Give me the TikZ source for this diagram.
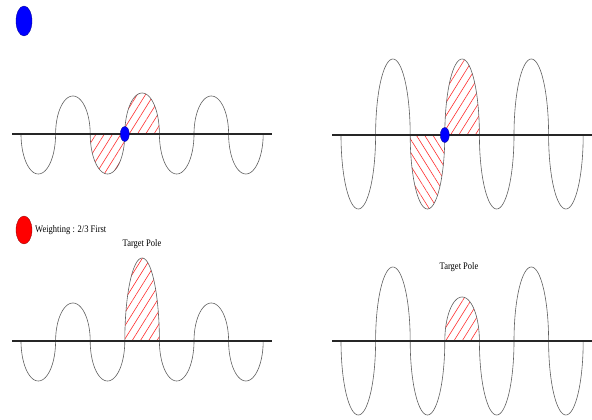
\documentclass[tikz,border=0pt]{standalone}
\usepackage{fontspec}
\setmainfont{Liberation Serif}
\newfontfamily\narrowserif[FakeStretch=0.85]{Liberation Serif}
\usetikzlibrary{patterns.meta}
\definecolor{wavegray}{RGB}{95,95,95}
\definecolor{hatchred}{RGB}{255,45,45}

\tikzset{
  wave/.style={wavegray, line width=0.6pt},
  axisline/.style={black!85, line width=1.3pt},
  hatchup/.style={pattern={Lines[angle=58, distance=7pt, line width=0.6pt]}, pattern color=hatchred},
  hatchdown/.style={pattern={Lines[angle=-58, distance=7pt, line width=0.6pt]}, pattern color=hatchred},
  pole/.style={fill=blue, draw=blue!55!black, line width=0.3pt},
  weight/.style={fill=red, draw=red!55!black, line width=0.3pt},
  txt/.style={font=\narrowserif\fontsize{10}{11}\selectfont, inner sep=0pt}
}

\begin{document}
\begin{tikzpicture}[x=1pt, y=1pt]
  \useasboundingbox (0,0) rectangle (592,420);

  % legend marks
  \filldraw[pole] (24,399) ellipse (8 and 15);
  \filldraw[weight] (24,190) ellipse (8 and 14);
  \node[txt, anchor=west] (weightlbl) at (35,190) {Weighting : 2/3 First};

  % top left: equal lobes, pole between two hatched lobes
  \begin{scope}[shift={(0,286)}]
    \fill[hatchup] plot[domain=180:360, samples=41, smooth] ({90.2+17.3+17.3*cos(\x)}, {40*sin(\x)}) -- cycle;
    \fill[hatchup] plot[domain=180:0, samples=41, smooth] ({124.8+17.3+17.3*cos(\x)}, {41*sin(\x)}) -- cycle;
    \foreach \k/\h in {0/-40, 1/38, 2/-40, 3/41, 4/-40, 5/38, 6/-40}
      \draw[wave] plot[domain=180:0, samples=41, smooth] ({21+34.6*\k+17.3+17.3*cos(\x)}, {\h*sin(\x)});
    \draw[axisline] (12,0) -- (272,0);
    \filldraw[pole] (124.8,0) ellipse (4.5 and 7.5);
  \end{scope}

  % top right: tall lobes
  \begin{scope}[shift={(320,285)}]
    \fill[hatchdown] plot[domain=180:360, samples=41, smooth] ({90.2+17.3+17.3*cos(\x)}, {74*sin(\x)}) -- cycle;
    \fill[hatchup] plot[domain=180:0, samples=41, smooth] ({124.8+17.3+17.3*cos(\x)}, {76*sin(\x)}) -- cycle;
    \foreach \k/\h in {0/-74, 1/76, 2/-74, 3/76, 4/-74, 5/76, 6/-74}
      \draw[wave] plot[domain=180:0, samples=41, smooth] ({21+34.6*\k+17.3+17.3*cos(\x)}, {\h*sin(\x)});
    \draw[axisline] (12,0) -- (272,0);
    \filldraw[pole] (124.8,0) ellipse (4.5 and 7.5);
  \end{scope}

  % bottom left: target pole raised
  \begin{scope}[shift={(0,79)}]
    \fill[hatchup] plot[domain=180:0, samples=41, smooth] ({124.8+17.3+17.3*cos(\x)}, {83*sin(\x)}) -- cycle;
    \foreach \k/\h in {0/-40, 1/38, 2/-40, 3/83, 4/-40, 5/38, 6/-40}
      \draw[wave] plot[domain=180:0, samples=41, smooth] ({21+34.6*\k+17.3+17.3*cos(\x)}, {\h*sin(\x)});
    \draw[axisline] (12,0) -- (272,0);
  \end{scope}
  \node[txt] (poleA) at (142,176) {Target Pole};

  % bottom right: target pole lowered
  \begin{scope}[shift={(320,79)}]
    \fill[hatchup] plot[domain=180:0, samples=41, smooth] ({124.8+17.3+17.3*cos(\x)}, {44*sin(\x)}) -- cycle;
    \foreach \k/\h in {0/-74, 1/74, 2/-74, 3/44, 4/-74, 5/74, 6/-74}
      \draw[wave] plot[domain=180:0, samples=41, smooth] ({21+34.6*\k+17.3+17.3*cos(\x)}, {\h*sin(\x)});
    \draw[axisline] (12,0) -- (272,0);
  \end{scope}
  \node[txt] (poleB) at (459,153) {Target Pole};
\end{tikzpicture}
\end{document}
